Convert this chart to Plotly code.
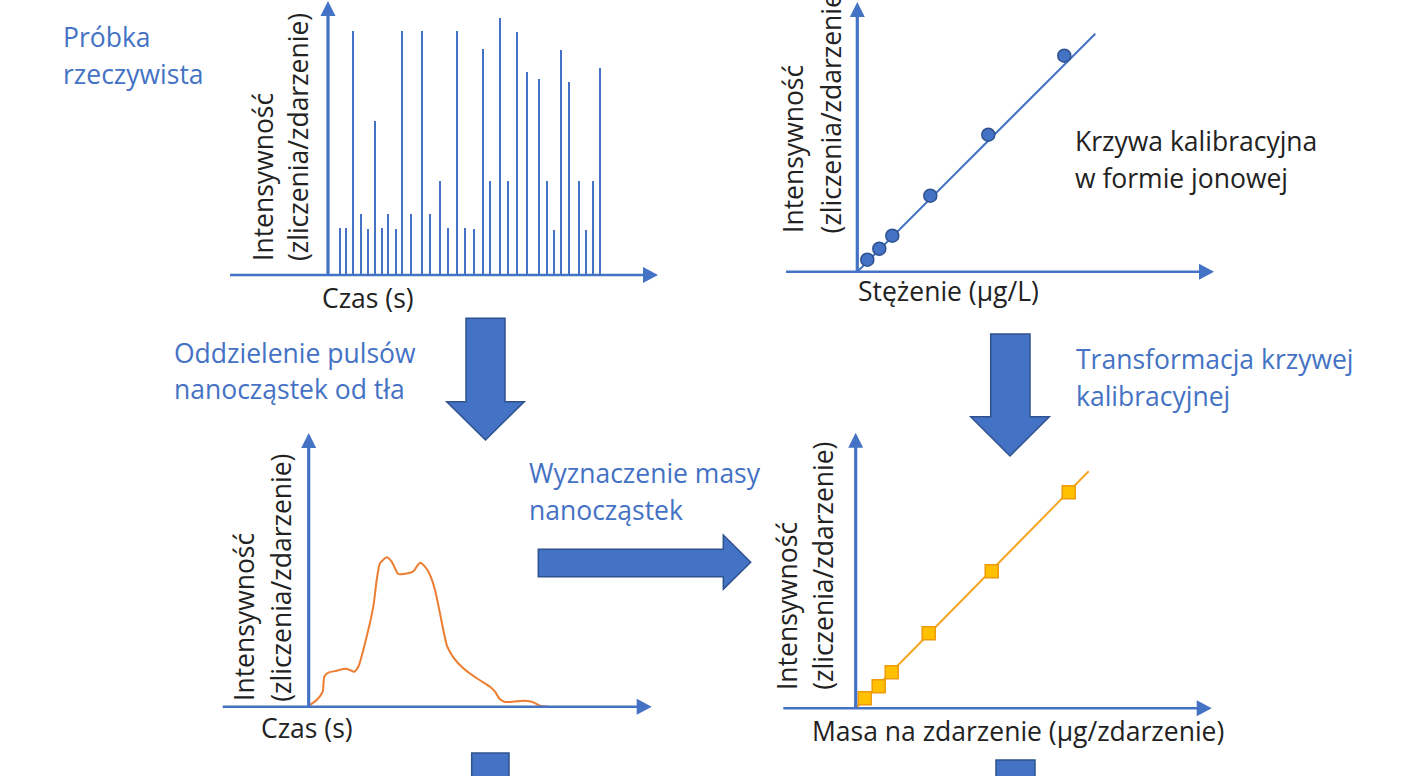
import plotly.graph_objects as go

W, H = 1403, 776
BLUE = "#4472C4"
BLUE_DARK = "#2F528F"
ORANGE = "#ED7D31"
GOLD_LINE = "#F5A623"
GOLD_FILL = "#FFC000"
GOLD_EDGE = "#EE9A0A"
TEXT_DARK = "#222222"
FONT = "Open Sans"
FS = 26.5

# ---------------- data ----------------
# Panel 1: raw signal (time, intensity) - spikes
spike_time = [12, 18, 25, 33, 40, 47, 54, 60, 68, 74, 83, 94, 102, 112, 120, 129, 137,
              146, 155, 162, 172, 180, 189, 199, 211, 219, 226, 233, 241, 251, 258, 265, 272]
spike_height = [47, 47, 244, 61, 46, 154, 47, 61, 46, 244, 61, 244, 61, 94, 47, 244, 47,
                46, 226, 94, 257, 94, 243, 203, 196, 94, 45, 225, 193, 94, 45, 94, 207]

# Panel 2: ionic calibration curve
calib_conc = [10, 22, 35, 73, 131, 207]
calib_int = [12, 23, 36, 76, 137, 216]
calib_line_x = [0, 238]
calib_line_y = [0, 238]

# Panel 3: nanoparticle pulse (time, intensity)
pulse_time = [0, 1.3, 8, 14, 15.6, 19.6, 28, 36.3, 41.3, 45.3, 49.6, 56.3, 64.6, 68, 71.3, 78,
              83, 86.3, 89.6, 94.6, 101.3, 105.3, 108, 111.3, 116.3, 121.3, 126.3, 131.3,
              134.6, 138.6, 144.6, 154.6, 168, 181.3, 186.3, 191.3, 196.3, 204.6, 214.6,
              223, 231.3, 239.6]
pulse_int = [0, 1.7, 6.7, 15, 30, 34, 36, 38, 36.7, 35, 40, 63.4, 100, 126.7, 143.4, 149.4,
             145, 138.4, 132.7, 132.7, 134, 136, 140, 144, 140, 131.7, 116.7, 93.4,
             76.7, 60, 49.4, 38.4, 28.4, 20, 15, 7.4, 4.7, 5, 6, 5, 1, 0]

# Panel 4: mass calibration curve
mass_val = [9, 23, 36, 73, 136, 213]
mass_int = [10, 22, 36, 75, 137, 216]
mass_line_x = [0, 233]
mass_line_y = [0, 237]


def px(x):
    return x / W


def py(y):
    return 1 - y / H


fig = go.Figure()

# panel geometry (pixel boxes) and data ranges (1 unit = 1 px)
panels = [
    dict(box=(230, 660, 0, 280), xr=[-98, 332], yr=[-5, 275]),
    dict(box=(786, 1216, 0, 276), xr=[-71.3, 358.7], yr=[-4.3, 271.7]),
    dict(box=(222, 655, 430, 712), xr=[-86.7, 346.3], yr=[-5.3, 276.7]),
    dict(box=(783, 1215, 430, 714), xr=[-72.7, 359.3], yr=[-5.7, 278.3]),
]
layout_axes = {}
for i, p in enumerate(panels, start=1):
    x0, x1, y0, y1 = p["box"]
    xn = "xaxis" if i == 1 else f"xaxis{i}"
    yn = "yaxis" if i == 1 else f"yaxis{i}"
    layout_axes[xn] = dict(domain=[px(x0), px(x1)], range=p["xr"], visible=False,
                           anchor="y" if i == 1 else f"y{i}", fixedrange=True)
    layout_axes[yn] = dict(domain=[py(y1), py(y0)], range=p["yr"], visible=False,
                           anchor="x" if i == 1 else f"x{i}", fixedrange=True)

# spikes
sx, sy = [], []
for t, h in zip(spike_time, spike_height):
    sx += [t, t, None]
    sy += [0, h, None]
fig.add_trace(go.Scatter(x=sx, y=sy, mode="lines", line=dict(color=BLUE, width=2),
                         xaxis="x", yaxis="y", hoverinfo="skip"))

# calibration line + points
fig.add_trace(go.Scatter(x=calib_line_x, y=calib_line_y, mode="lines",
                         line=dict(color=BLUE, width=2), xaxis="x2", yaxis="y2"))
fig.add_trace(go.Scatter(x=calib_conc, y=calib_int, mode="markers",
                         marker=dict(size=13, color=BLUE, line=dict(color=BLUE_DARK, width=1.5)),
                         xaxis="x2", yaxis="y2"))

# pulse
fig.add_trace(go.Scatter(x=pulse_time, y=pulse_int, mode="lines",
                         line=dict(color=ORANGE, width=2, shape="spline", smoothing=0.6),
                         xaxis="x3", yaxis="y3"))

# mass calibration
fig.add_trace(go.Scatter(x=mass_line_x, y=mass_line_y, mode="lines",
                         line=dict(color=GOLD_LINE, width=2), xaxis="x4", yaxis="y4"))
fig.add_trace(go.Scatter(x=mass_val, y=mass_int, mode="markers",
                         marker=dict(size=13, symbol="square", color=GOLD_FILL,
                                     line=dict(color=GOLD_EDGE, width=1.5)),
                         xaxis="x4", yaxis="y4"))

shapes = []


def line(x0, y0, x1, y1, width):
    shapes.append(dict(type="line", xref="paper", yref="paper",
                       x0=px(x0), y0=py(y0), x1=px(x1), y1=py(y1),
                       line=dict(color=BLUE, width=width)))


def poly(points, fill=BLUE, edge=None, width=0):
    d = "M " + " L ".join(f"{px(a):.5f},{py(b):.5f}" for a, b in points) + " Z"
    shapes.append(dict(type="path", xref="paper", yref="paper", path=d,
                       fillcolor=fill, line=dict(color=edge or fill, width=width)))


def axes_arrows(ox, oy, xstart, xtip, ytip):
    # x axis
    line(xstart, oy, xtip - 13, oy, 2.6)
    poly([(xtip - 15, oy - 8), (xtip, oy), (xtip - 15, oy + 8)])
    # y axis
    line(ox, oy, ox, ytip + 13, 3.2)
    poly([(ox - 7.5, ytip + 15), (ox, ytip), (ox + 7.5, ytip + 15)])


axes_arrows(328, 275, 230, 658, 1)
axes_arrows(857.3, 271.7, 786, 1214, 2)
axes_arrows(308.7, 706.7, 222.7, 651.7, 433)
axes_arrows(855.7, 708.3, 783.3, 1211.7, 432.7)


def down_arrow(sx0, sx1, top, hb, hx0, hx1, tipy):
    tipx = (hx0 + hx1) / 2
    poly([(sx0, top), (sx1, top), (sx1, hb), (hx1, hb), (tipx, tipy),
          (hx0, hb), (sx0, hb)], fill=BLUE, edge=BLUE_DARK, width=1.5)


down_arrow(466, 505, 318.3, 401.7, 446.7, 524.3, 440)
down_arrow(990.7, 1030, 334, 416.7, 970.7, 1049.3, 456)
# right arrow
poly([(538.3, 549.3), (723.3, 549.3), (723.3, 535), (750.7, 562.3), (723.3, 589.3),
      (723.3, 576.7), (538.3, 576.7)], fill=BLUE, edge=BLUE_DARK, width=1.5)
# partial arrows at bottom edge
poly([(471.7, 753), (509, 753), (509, 800), (471.7, 800)], fill=BLUE, edge=BLUE_DARK, width=1.5)
poly([(996, 760), (1035, 760), (1035, 800), (996, 800)], fill=BLUE, edge=BLUE_DARK, width=1.5)

annotations = []


def text(s, x, y, color=BLUE, anchor="left"):
    annotations.append(dict(text=s, x=px(x), y=py(y), xref="paper", yref="paper",
                            showarrow=False, xanchor=anchor, yanchor="middle",
                            font=dict(family=FONT, size=FS, color=color)))


def vtext(s, x, ybottom):
    annotations.append(dict(text=s, x=px(x), y=py(ybottom), xref="paper", yref="paper",
                            showarrow=False, xanchor="center", yanchor="bottom",
                            textangle=-90,
                            font=dict(family=FONT, size=FS, color=TEXT_DARK)))


text("Próbka", 61, 36.5)
text("rzeczywista", 61, 73.7)
text("Oddzielenie pulsów", 172, 353)
text("nanocząstek od tła", 172, 389)
text("Transformacja krzywej", 1074, 359)
text("kalibracyjnej", 1074, 395.7)
text("Wyznaczenie masy", 527, 473)
text("nanocząstek", 527, 509.7)
text("Krzywa kalibracyjna", 1073, 141.4, color=TEXT_DARK)
text("w formie jonowej", 1073, 178, color=TEXT_DARK)

text("Czas (s)", 368.3, 298, color=TEXT_DARK, anchor="center")
text("Stężenie (µg/L)", 948.8, 291.4, color=TEXT_DARK, anchor="center")
text("Czas (s)", 306.7, 728, color=TEXT_DARK, anchor="center")
text("Masa na zdarzenie (µg/zdarzenie)", 1018.3, 731.4, color=TEXT_DARK, anchor="center")

vtext("Intensywność", 263, 263)
vtext("(zliczenia/zdarzenie)", 298, 263)
vtext("Intensywność", 793, 235)
vtext("(zliczenia/zdarzenie)", 831.4, 235)
vtext("Intensywność", 244.7, 703.3)
vtext("(zliczenia/zdarzenie)", 281.4, 703.3)
vtext("Intensywność", 786.4, 691.7)
vtext("(zliczenia/zdarzenie)", 823, 691.7)

fig.update_layout(width=W, height=H, margin=dict(l=0, r=0, t=0, b=0),
                  paper_bgcolor="white", plot_bgcolor="rgba(0,0,0,0)",
                  showlegend=False, shapes=shapes, annotations=annotations,
                  **layout_axes)

fig.write_html("out.html", config={"displayModeBar": False},
               post_script="document.body.style.margin='0';"
                           "document.body.style.overflow='hidden';")
